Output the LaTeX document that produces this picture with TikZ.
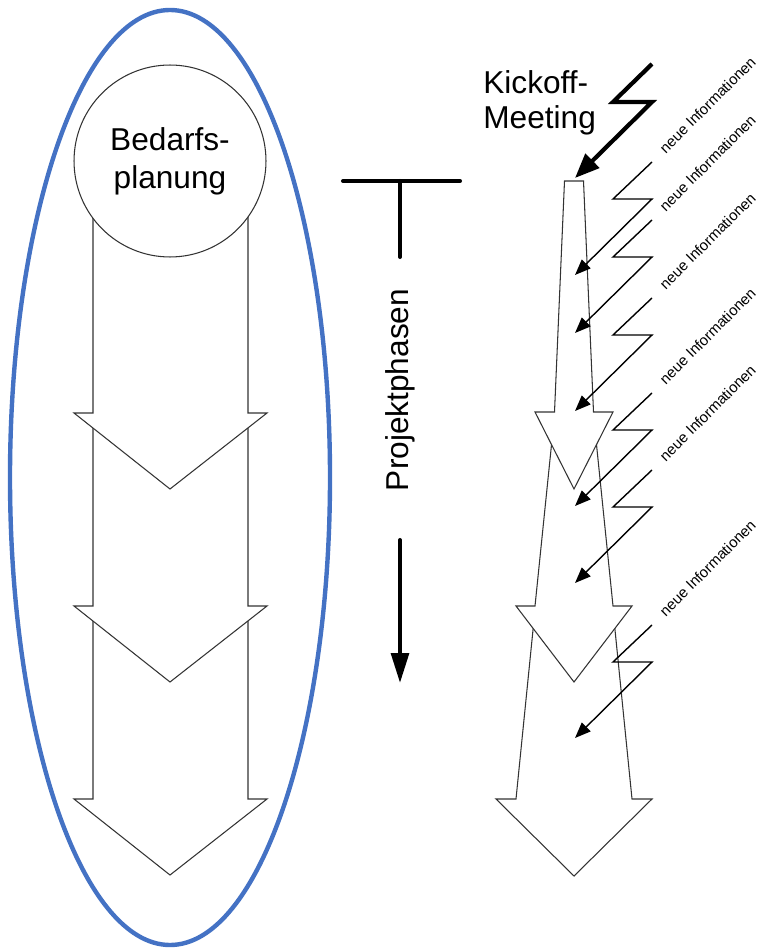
\documentclass[tikz,border=0pt]{standalone}
\usepackage{fontspec}
\setmainfont{Liberation Sans}
\usetikzlibrary{arrows.meta,positioning}
\definecolor{hullblue}{RGB}{68,114,196}
\tikzset{
  blockarrow/.style={draw=black!80, fill=white, line width=0.6pt, line join=miter},
  phasecircle/.style={circle, draw=black!80, fill=white, line width=0.6pt,
                      minimum size=3.84cm, inner sep=0pt, align=center,
                      font=\fontsize{18}{21.5}\selectfont},
  hullline/.style={draw=hullblue, line width=2.5pt},
  bigtext/.style={font=\fontsize{18}{20}\selectfont, align=left, inner sep=0pt},
  phaseline/.style={line width=2.3pt, line cap=round},
  boltthick/.style={line width=2.4pt, -{Triangle[length=14pt,width=11pt]}},
  boltthin/.style={line width=0.8pt, -{Triangle[length=9pt,width=7pt]}},
  infolabel/.style={font=\fontsize{8.5}{10}\selectfont, rotate=45, inner sep=0pt}
}
\begin{document}
\begin{tikzpicture}[x=0.02cm, y=-0.02cm]
\useasboundingbox (0,0) rectangle (764,949);
% left: Bedarfsplanung with stacked block arrows
\foreach \ytop/\ybase in {613/799, 420/606, 170/413}
  \draw[blockarrow] (93,\ytop) -- (93,\ybase) -- (74,\ybase) -- (170,\ybase+76)
    -- (267,\ybase) -- (248,\ybase) -- (248,\ytop) -- cycle;
\node[phasecircle] (bedarf) at (170,161) {Bedarfs-\\planung};
\draw[hullline] (170,477.5) ellipse [x radius=160, y radius=467.5];

% middle: Projektphasen
\node[bigtext, rotate=90] (phasen) at (400,390) {Projektphasen};
\coordinate (barL) at (343,181);
\coordinate (barR) at (460,181);
\coordinate (barM) at (400,181);
\coordinate (stem) at (400,257);
\coordinate (flowA) at (400,540);
\coordinate (flowB) at (400,683);
\draw[phaseline] (barL) -- (barR);
\draw[phaseline] (barM) -- (stem);
\draw[phaseline, -{Triangle[length=17pt,width=10pt]}] (flowA) -- (flowB);

% right: tapered block arrows
\foreach \ytop/\ybase/\hwtop/\hwbase/\hwwing/\ytip in
    {615/799/39.5/58/78/876, 430/606/21/39/58/682, 181/412/9.5/19.5/39/489}
  \draw[blockarrow] (574-\hwtop,\ytop) -- (574-\hwbase,\ybase) -- (574-\hwwing,\ybase)
    -- (574,\ytip) -- (574+\hwwing,\ybase) -- (574+\hwbase,\ybase)
    -- (574+\hwtop,\ytop) -- cycle;

% Kickoff-Meeting
\node[bigtext, anchor=north west] (kickoff) at (483,70) {Kickoff-\\Meeting};
\coordinate (kickstart) at (652,64);
\coordinate (top1) at (575,178);
\draw[boltthick] (kickstart) -- ++(-39,38) -- ++(39,0) -- (top1);

% neue Informationen
\foreach \s [count=\i] in {162,220,298,393,470,625} {
  \coordinate (bolt\i) at (652,\s);
  \coordinate (hit\i) at (575,\s+113);
  \draw[boltthin] (bolt\i) -- ++(-39,37) -- ++(39,0) -- (hit\i);
  \node[infolabel] (info\i) at (707.5,\s-57) {neue Informationen};
}
\end{tikzpicture}
\end{document}
